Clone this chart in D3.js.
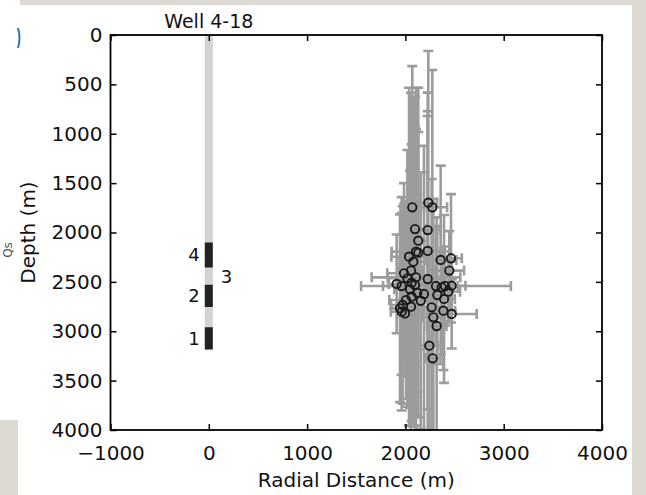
<!DOCTYPE html>
<html>
<head>
<meta charset="utf-8">
<script src="https://cdn.jsdelivr.net/npm/d3@7"></script>
<style>
  body { margin: 0; background: #fff; }
  svg { display: block; font-family: "DejaVu Sans", sans-serif; }
</style>
</head>
<body>
<svg id="chart"></svg>
<script>
// microseismic event locations (radial distance, depth) with error estimates
const eventX = [2070, 2233, 2274, 2098, 2227, 2131, 2108, 2131, 2227, 2037, 2081, 2359,
  2464, 2447, 1986, 2057, 2020, 2108, 1911, 1962, 2064, 2098, 2227, 2311,
  2369, 2403, 2471, 2047, 2121, 2189, 2325, 2436, 2064, 2006, 2156, 2393,
  1972, 2057, 1945, 1962, 1996, 2267, 2386, 2471, 2284, 2318, 2243, 2277];
const eventDepth = [1745, 1698, 1745, 1965, 1975, 2083, 2194, 2204, 2187, 2245, 2296, 2278,
  2261, 2386, 2413, 2386, 2464, 2454, 2521, 2542, 2508, 2532, 2471, 2542,
  2555, 2542, 2539, 2575, 2610, 2623, 2633, 2599, 2650, 2684, 2691, 2673,
  2734, 2751, 2768, 2802, 2819, 2758, 2792, 2825, 2859, 2947, 3146, 3274];
const xErr = [120, 90, 150, 110, 130, 90, 248, 100, 160, 180, 140, 160,
  110, 150, 170, 120, 200, 451, 80, 190, 130, 110, 140, 762,
  120, 130, 140, 160, 120, 110, 150, 120, 100, 170, 120, 110,
  120, 100, 90, 110, 80, 100, 120, 254, 110, 100, 90, 80];
const depthErr = [1430, 1536, 1390, 1340, 1155, 1100, 1660, 1670, 1603, 1711, 1670, 955,
  650, 400, 913, 1800, 1300, 1500, 500, 900, 1400, 1600, 1700, 600,
  300, 400, 250, 1200, 1000, 1500, 700, 300, 1100, 1000, 1300, 850,
  1000, 900, 950, 1000, 640, 1300, 600, 350, 1200, 1100, 1000, 900];

// well 4-18 and its stages
const wellDepth = [0, 3185];
const stageNames = ["4", "2", "1"];
const stageTop = [2100, 2530, 2960];
const stageBottom = [2355, 2755, 3185];
const gapLabel = "3";
const gapDepth = 2442;

const xTicks = [-1000, 0, 1000, 2000, 3000, 4000];
const yTicks = [0, 500, 1000, 1500, 2000, 2500, 3000, 3500, 4000];

const width = 646, height = 495;
const svg = d3.select("#chart").attr("width", width).attr("height", height);

// surrounding slide pieces
svg.append("rect").attr("x", 20).attr("y", 0).attr("width", 626).attr("height", 5).attr("fill", "#dddad4");
svg.append("rect").attr("x", 632).attr("y", 0).attr("width", 14).attr("height", height).attr("fill", "#dddad4");
svg.append("rect").attr("x", 0).attr("y", 420).attr("width", 18).attr("height", 75).attr("fill", "#dddad4");
svg.append("path").attr("d", "M18,28 Q21,38 18,48").attr("fill", "none").attr("stroke", "#3a6fb0").attr("stroke-width", 2);
svg.append("text").attr("transform", "translate(12,250) rotate(-90)").attr("text-anchor", "middle")
  .attr("font-size", 12).attr("fill", "#555").text("Qs");

const x = d3.scaleLinear().domain([-1000, 4000]).range([110.5, 602]);
const y = d3.scaleLinear().domain([0, 4000]).range([35, 430]);

svg.append("defs").append("clipPath").attr("id", "plotClip")
  .append("rect").attr("x", 110.5).attr("y", 35).attr("width", 491.5).attr("height", 395);

const plot = svg.append("g").attr("clip-path", "url(#plotClip)");

// well trace
plot.append("line")
  .attr("x1", x(0)).attr("x2", x(0))
  .attr("y1", y(wellDepth[0])).attr("y2", y(wellDepth[1]))
  .attr("stroke", "#d3d3d3").attr("stroke-width", 8);

plot.selectAll(".stage").data(stageNames).join("line")
  .attr("class", "stage")
  .attr("x1", x(0)).attr("x2", x(0))
  .attr("y1", (d, i) => y(stageTop[i])).attr("y2", (d, i) => y(stageBottom[i]))
  .attr("stroke", "#222").attr("stroke-width", 8);

svg.selectAll(".stageLabel").data(stageNames).join("text")
  .attr("class", "stageLabel")
  .attr("x", x(0) - 9)
  .attr("y", (d, i) => y((stageTop[i] + stageBottom[i]) / 2))
  .attr("dy", "0.36em")
  .attr("text-anchor", "end").attr("font-size", 18).attr("fill", "#111")
  .text(d => d);

svg.append("text")
  .attr("x", x(0) + 12).attr("y", y(gapDepth)).attr("dy", "0.36em")
  .attr("font-size", 18).attr("fill", "#111").text(gapLabel);

// error bars
const events = eventX.map((v, i) => ({ x: v, d: eventDepth[i], ex: xErr[i], ed: depthErr[i] }));
const errColor = "#9c9c9c";
const cap = 5;
const eb = plot.append("g").attr("stroke", errColor).attr("stroke-width", 2.6).attr("fill", "none");

events.forEach(e => {
  const cx = x(e.x), cy = y(e.d);
  const y0 = y(e.d - e.ed), y1 = y(e.d + e.ed);
  const x0 = x(e.x - e.ex), x1 = x(e.x + e.ex);
  eb.append("path").attr("d",
    `M${cx},${y0}V${y1}` +
    `M${cx - cap},${y0}H${cx + cap}M${cx - cap},${y1}H${cx + cap}` +
    `M${x0},${cy}H${x1}` +
    `M${x0},${cy - cap}V${cy + cap}M${x1},${cy - cap}V${cy + cap}`);
});

plot.selectAll("circle").data(events).join("circle")
  .attr("cx", d => x(d.x)).attr("cy", d => y(d.d))
  .attr("r", 4.2)
  .attr("fill", "none").attr("stroke", "#1a1a1a").attr("stroke-width", 1.9);

// axes with inward ticks on all sides
const fmt = d3.format("d");
const tickFmt = d => fmt(d).replace("-", "\u2212");
const gx = svg.append("g").attr("transform", "translate(0,430)")
  .call(d3.axisBottom(x).tickValues(xTicks).tickSize(-6).tickPadding(16).tickFormat(tickFmt));
const gxt = svg.append("g").attr("transform", "translate(0,35)")
  .call(d3.axisTop(x).tickValues(xTicks).tickSize(-6).tickFormat(""));
const gy = svg.append("g").attr("transform", "translate(110.5,0)")
  .call(d3.axisLeft(y).tickValues(yTicks).tickSize(-6).tickPadding(8).tickFormat(tickFmt));
const gyr = svg.append("g").attr("transform", "translate(602,0)")
  .call(d3.axisRight(y).tickValues(yTicks).tickSize(-6).tickFormat(""));

[gx, gxt, gy, gyr].forEach(g => {
  g.select(".domain").remove();
  g.selectAll(".tick line").attr("stroke", "#000").attr("stroke-width", 1.5);
  g.selectAll(".tick text").attr("font-size", 20).attr("fill", "#111").attr("font-family", "DejaVu Sans, sans-serif");
});

svg.append("rect")
  .attr("x", 110.5).attr("y", 35).attr("width", 491.5).attr("height", 395)
  .attr("fill", "none").attr("stroke", "#000").attr("stroke-width", 1.8);

// titles
svg.append("text").attr("x", x(0)).attr("y", 28).attr("text-anchor", "middle")
  .attr("font-size", 19).attr("fill", "#111").text("Well 4-18");
svg.append("text").attr("x", x(1500)).attr("y", 487).attr("text-anchor", "middle")
  .attr("font-size", 20).attr("fill", "#111").text("Radial Distance (m)");
svg.append("text").attr("transform", `translate(35,${y(2000)}) rotate(-90)`).attr("text-anchor", "middle")
  .attr("font-size", 20).attr("fill", "#111").text("Depth (m)");
</script>
</body>
</html>
